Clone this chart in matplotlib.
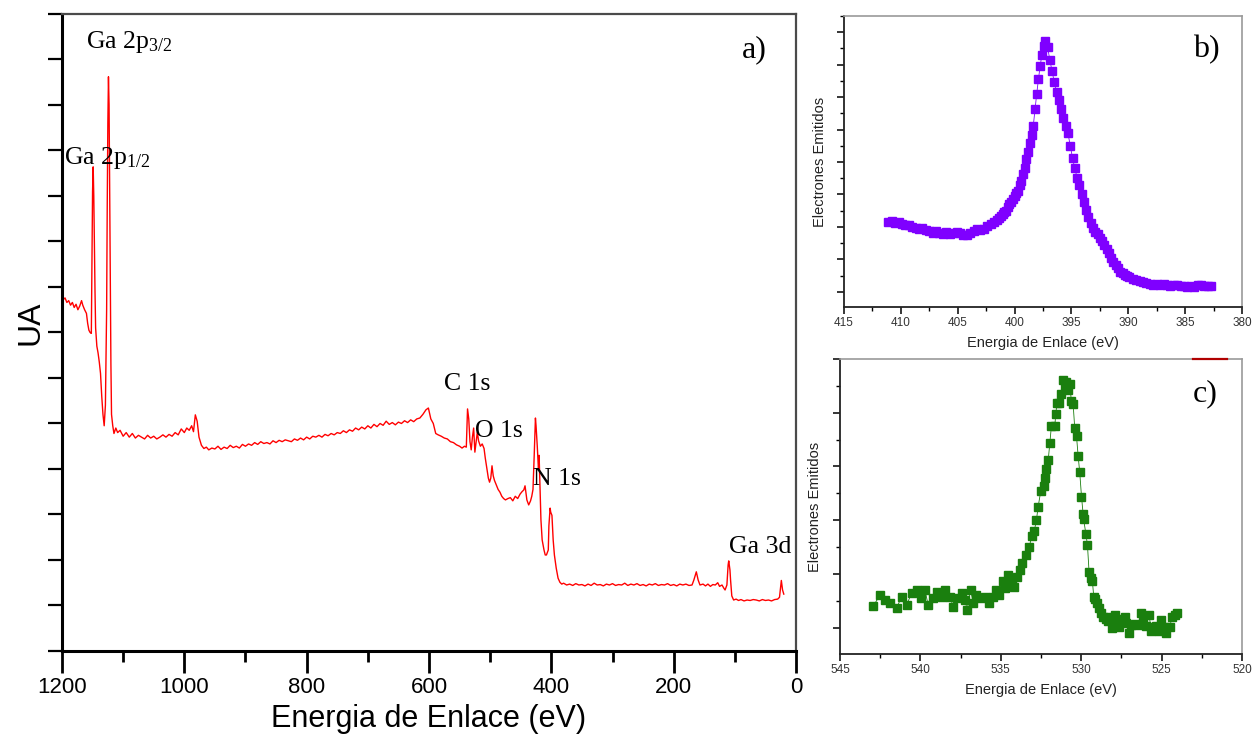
import matplotlib
matplotlib.use("Agg")
import matplotlib.pyplot as plt
from matplotlib.ticker import MultipleLocator, NullFormatter

plt.rcParams["font.family"] = ["Liberation Sans", "DejaVu Sans"]
plt.rcParams["mathtext.fontset"] = "custom"
plt.rcParams["mathtext.rm"] = "Liberation Serif"
plt.rcParams["mathtext.it"] = "Liberation Serif:italic"

# ---- survey spectrum (a) ----
survey_energy = [
    1200, 1198, 1195, 1192, 1189, 1186, 1183, 1180, 1177, 1174, 1171, 1168, 1166, 1163, 1160,
    1158, 1156, 1154, 1152, 1151, 1150, 1149, 1148, 1147, 1146, 1145, 1143, 1141, 1139, 1137,
    1135, 1133, 1131, 1129, 1127, 1126, 1125, 1124, 1123, 1122, 1121, 1120, 1119, 1117, 1115,
    1112, 1109, 1105, 1100, 1095, 1090, 1085, 1080, 1075, 1070, 1065, 1060, 1055, 1050, 1045,
    1040, 1035, 1030, 1025, 1020, 1015, 1010, 1005, 1000, 996, 992, 988, 985, 982, 979,
    976, 972, 968, 964, 960, 955, 950, 945, 940, 935, 930, 925, 920, 915, 910,
    905, 900, 895, 890, 885, 880, 875, 870, 865, 860, 855, 850, 845, 840, 835,
    830, 825, 820, 815, 810, 805, 800, 795, 790, 785, 780, 775, 770, 765, 760,
    755, 750, 745, 740, 735, 730, 725, 720, 715, 710, 705, 700, 695, 690, 685,
    680, 675, 670, 665, 660, 655, 650, 645, 640, 635, 630, 625, 620, 615, 610,
    605, 601, 597, 593, 589, 585, 580, 575, 570, 565, 560, 555, 550, 546, 542,
    539, 537, 535, 533, 531, 529, 527, 525, 523, 521, 519, 516, 513, 510, 508,
    505, 503, 501, 499, 497, 495, 493, 490, 487, 484, 481, 478, 475, 471, 467,
    463, 459, 455, 451, 448, 445, 443, 440, 437, 434, 432, 430, 428, 426, 425,
    423, 421, 420, 418, 417, 415, 412, 410, 408, 405, 404, 402, 401, 399, 397,
    395, 392, 389, 386, 383, 380, 375, 370, 365, 360, 355, 350, 345, 340, 335,
    330, 325, 320, 315, 310, 305, 300, 295, 290, 285, 280, 275, 270, 265, 260,
    255, 250, 245, 240, 235, 230, 225, 220, 215, 210, 205, 200, 195, 190, 185,
    180, 175, 170, 167, 163, 160, 157, 152, 148, 144, 140, 136, 132, 128, 125,
    121, 118, 116, 113, 111, 110, 108, 107, 105, 102, 98, 94, 90, 85, 80,
    75, 70, 65, 60, 55, 50, 45, 40, 35, 30, 27, 25, 24, 22, 20,
]
survey_counts = [
    7.80, 7.72, 7.76, 7.66, 7.70, 7.60, 7.66, 7.55, 7.62, 7.50, 7.58, 7.70, 7.60, 7.50, 7.42,
    7.20, 7.05, 7.00, 6.98, 8.50, 10.10, 10.64, 10.00, 8.90, 7.90, 7.10, 6.70, 6.55, 6.35, 6.10,
    5.60, 5.20, 4.95, 5.40, 7.50, 9.80, 11.60, 12.62, 12.00, 10.20, 8.20, 6.30, 5.20, 4.95, 4.78,
    4.90, 4.80, 4.85, 4.72, 4.80, 4.70, 4.78, 4.68, 4.74, 4.70, 4.66, 4.74, 4.68, 4.72, 4.66,
    4.70, 4.75, 4.70, 4.76, 4.72, 4.80, 4.75, 4.88, 4.80, 4.90, 4.85, 4.95, 4.82, 5.19, 5.05,
    4.70, 4.52, 4.45, 4.48, 4.42, 4.46, 4.44, 4.50, 4.43, 4.48, 4.45, 4.52, 4.47, 4.50, 4.46,
    4.54, 4.50, 4.55, 4.52, 4.58, 4.54, 4.60, 4.56, 4.58, 4.55, 4.62, 4.58, 4.63, 4.60, 4.64,
    4.62, 4.60, 4.66, 4.63, 4.68, 4.64, 4.70, 4.66, 4.72, 4.70, 4.74, 4.70, 4.76, 4.73, 4.78,
    4.75, 4.80, 4.78, 4.84, 4.80, 4.86, 4.83, 4.90, 4.86, 4.92, 4.88, 4.95, 4.90, 4.98, 4.93,
    5.00, 4.96, 5.05, 4.98, 5.02, 4.97, 5.03, 5.00, 5.06, 5.02, 5.08, 5.04, 5.10, 5.12, 5.20,
    5.30, 5.34, 5.10, 5.00, 4.78, 4.75, 4.72, 4.68, 4.66, 4.60, 4.58, 4.53, 4.50, 4.46, 4.50,
    4.48, 5.32, 5.10, 4.60, 4.42, 4.70, 4.90, 4.37, 4.60, 4.81, 4.62, 4.50, 4.55, 4.45, 4.24,
    3.98, 3.80, 3.71, 3.80, 4.07, 3.85, 3.75, 3.65, 3.55, 3.49, 3.40, 3.35, 3.32, 3.35, 3.37,
    3.30, 3.40, 3.35, 3.45, 3.50, 3.54, 3.63, 3.32, 3.21, 3.30, 3.40, 3.55, 4.30, 5.12, 4.95,
    4.50, 3.97, 4.30, 3.32, 2.88, 2.44, 2.22, 2.11, 2.11, 2.22, 2.75, 3.14, 3.05, 2.98, 2.44,
    2.11, 1.82, 1.60, 1.51, 1.47, 1.49, 1.45, 1.47, 1.44, 1.48, 1.45, 1.46, 1.43, 1.47, 1.44,
    1.49, 1.45, 1.46, 1.43, 1.47, 1.45, 1.48, 1.44, 1.46, 1.45, 1.49, 1.44, 1.47, 1.45, 1.48,
    1.44, 1.46, 1.43, 1.47, 1.45, 1.48, 1.44, 1.46, 1.45, 1.48, 1.44, 1.46, 1.43, 1.47, 1.45,
    1.47, 1.44, 1.45, 1.56, 1.74, 1.56, 1.45, 1.47, 1.43, 1.47, 1.42, 1.46, 1.45, 1.50, 1.42,
    1.45, 1.38, 1.34, 1.45, 1.89, 1.98, 1.78, 1.56, 1.21, 1.12, 1.14, 1.11, 1.13, 1.10, 1.12,
    1.11, 1.13, 1.12, 1.10, 1.13, 1.11, 1.12, 1.10, 1.13, 1.14, 1.18, 1.43, 1.55, 1.34, 1.25,
]

# peak labels: (text, energy, intensity)
peak_labels = [
    ("Ga 2p$_{3/2}$", 1161, 13.25),
    ("Ga 2p$_{1/2}$", 1197, 10.70),
    ("C 1s", 575, 5.74),
    ("O 1s", 525, 4.70),
    ("N 1s", 430, 3.65),
    ("Ga 3d", 109, 2.15),
]

# ---- N 1s high-resolution (b) ----
n1s_energy = [
    411.1, 410.8, 410.5, 410.2, 409.9, 409.6, 409.3, 409.0, 408.7, 408.4, 408.1, 407.8,
    407.5, 407.2, 406.9, 406.6, 406.3, 406.0, 405.7, 405.4, 405.1, 404.8, 404.5, 404.2,
    403.9, 403.6, 403.3, 403.0, 402.7, 402.4, 402.1, 401.8, 401.5,
    401.35, 401.2, 401.05, 400.9, 400.75, 400.6, 400.45, 400.3, 400.15, 400.0, 399.85,
    399.7, 399.55, 399.4, 399.25, 399.1, 398.95, 398.8, 398.65, 398.5, 398.35, 398.2,
    398.05, 397.9, 397.75, 397.6, 397.45, 397.3,
    397.1, 396.9, 396.7, 396.5, 396.3, 396.1, 395.9, 395.7, 395.5, 395.3, 395.1, 394.9,
    394.7, 394.5, 394.3, 394.1, 393.9, 393.7, 393.5, 393.3, 393.1, 392.9, 392.7, 392.5,
    392.3, 392.1, 391.9, 391.7, 391.5, 391.3, 391.1, 390.9, 390.7, 390.5, 390.3, 390.1,
    389.9, 389.6, 389.3, 389.0, 388.7, 388.4, 388.1, 387.8, 387.5, 387.2, 386.9, 386.6,
    386.3, 386.0, 385.7, 385.4, 385.1, 384.8, 384.5, 384.2, 383.9, 383.6, 383.3, 383.0,
    382.7,
]
n1s_counts = [
    2.16, 2.18, 2.13, 2.15, 2.10, 2.07, 2.05, 2.00, 1.98, 1.95, 1.96, 1.90,
    1.88, 1.82, 1.86, 1.80, 1.78, 1.83, 1.79, 1.81, 1.85, 1.80, 1.76, 1.74,
    1.80, 1.88, 1.92, 1.90, 1.95, 2.02, 2.10, 2.14, 2.22,
    2.28, 2.33, 2.40, 2.45, 2.50, 2.60, 2.70, 2.76, 2.86, 2.95, 3.05,
    3.12, 3.28, 3.42, 3.62, 3.82, 4.10, 4.30, 4.58, 4.82, 5.12, 5.62,
    6.10, 6.55, 6.95, 7.30, 7.58, 7.72,
    7.55, 7.15, 6.80, 6.45, 6.15, 5.90, 5.62, 5.35, 5.10, 4.88, 4.50, 4.12,
    3.80, 3.52, 3.30, 3.02, 2.78, 2.52, 2.30, 2.12, 1.98, 1.85, 1.78, 1.66,
    1.58, 1.45, 1.33, 1.20, 1.05, 0.92, 0.82, 0.72, 0.62, 0.57, 0.52, 0.48,
    0.45, 0.40, 0.35, 0.32, 0.30, 0.27, 0.25, 0.22, 0.24, 0.20, 0.23, 0.21,
    0.19, 0.22, 0.20, 0.17, 0.19, 0.15, 0.18, 0.16, 0.21, 0.20, 0.18, 0.19,
    0.17,
]

# ---- O 1s high-resolution (c) ----
o1s_energy = [
    542.93, 542.51, 542.20, 541.89, 541.48, 541.17, 540.86, 540.55, 540.24, 539.93,
    539.72, 539.51, 539.20, 538.99, 538.68, 538.48, 538.16, 537.96, 537.75, 537.44,
    537.23, 537.09, 536.88, 536.71, 536.51, 536.20, 535.99, 535.72, 535.51, 535.27,
    535.10, 534.89, 534.75, 534.54, 534.33, 534.17, 534.02, 533.82, 533.65, 533.46,
    533.24, 533.05, 532.92, 532.78, 532.68, 532.51, 532.32, 532.22, 532.16, 532.05,
    531.95, 531.85, 531.64, 531.58, 531.50, 531.37, 531.27, 531.12, 531.02, 530.92,
    530.81, 530.71, 530.61, 530.50, 530.40, 530.29, 530.19, 530.09, 529.98, 529.88,
    529.85, 529.71, 529.61, 529.51, 529.40, 529.30, 529.22, 529.11, 528.99, 528.91,
    528.78, 528.64, 528.47, 528.33, 528.18, 528.06, 527.91, 527.81, 527.64, 527.50,
    527.29, 527.19, 527.02, 526.88, 526.67, 526.46, 526.26, 526.15, 525.99, 525.78,
    525.63, 525.47, 525.32, 525.16, 525.01, 524.81, 524.70, 524.50, 524.33, 524.18,
    524.04,
]
o1s_counts = [
    0.40, 0.61, 0.52, 0.45, 0.36, 0.58, 0.42, 0.64, 0.70, 0.55,
    0.70, 0.42, 0.55, 0.67, 0.58, 0.71, 0.58, 0.39, 0.55, 0.64,
    0.52, 0.33, 0.71, 0.45, 0.61, 0.55, 0.58, 0.45, 0.58, 0.70,
    0.61, 0.86, 0.73, 0.98, 0.89, 0.76, 0.95, 1.07, 1.20, 1.35,
    1.51, 1.70, 1.79, 2.01, 2.24, 2.55, 2.63, 2.78, 2.95, 3.12,
    3.43, 3.76, 3.75, 3.98, 4.18, 4.18, 4.35, 4.60, 4.50, 4.58,
    4.43, 4.54, 4.21, 4.16, 3.71, 3.56, 3.20, 2.89, 2.44, 2.12,
    2.02, 1.75, 1.54, 1.04, 0.92, 0.86, 0.58, 0.53, 0.45, 0.36,
    0.27, 0.20, 0.17, 0.13, 0.20, -0.01, 0.24, 0.11, 0.02, 0.17,
    0.20, 0.09, -0.09, 0.05, 0.07, 0.05, 0.27, 0.11, 0.03, 0.24,
    -0.07, 0.02, 0.03, -0.07, 0.14, 0.01, -0.09, 0.02, 0.20, 0.24,
    0.28,
]

SERIF = ["Liberation Serif", "DejaVu Serif"]

fig = plt.figure(figsize=(12.52, 7.40), dpi=100)
fig.patch.set_facecolor("white")

# ---------------- panel a ----------------
ax = fig.add_axes([0.0495, 0.1203, 0.5863, 0.8608])
ax.plot(survey_energy, survey_counts, color="#ff0000", lw=1.0)
ax.set_xlim(1200, 0)
ax.set_ylim(0, 14)
ax.xaxis.set_major_locator(MultipleLocator(200))
ax.xaxis.set_minor_locator(MultipleLocator(100))
ax.yaxis.set_major_locator(MultipleLocator(1))
ax.yaxis.set_major_formatter(NullFormatter())
ax.tick_params(axis="x", which="major", direction="out", length=16, width=2,
               labelsize=16, pad=3, colors="black")
ax.tick_params(axis="x", which="minor", direction="out", length=8, width=2)
ax.tick_params(axis="y", which="major", direction="out", length=10, width=1.6)
for side in ("left", "bottom"):
    ax.spines[side].set_linewidth(2.2)
    ax.spines[side].set_color("black")
for side in ("top", "right"):
    ax.spines[side].set_linewidth(1.6)
    ax.spines[side].set_color("#4a4a4a")
ax.set_xlabel("Energia de Enlace (eV)", fontsize=22, labelpad=4)
ax.set_ylabel("UA", fontsize=23)
ax.yaxis.set_label_coords(-0.022, 0.515)
for text, e, v in peak_labels:
    ax.text(e, v, text, fontsize=18.5, family=SERIF, ha="left", va="baseline")
ax.text(0.926, 0.932, "a)", transform=ax.transAxes, fontsize=23, family=SERIF,
        ha="left", va="baseline")


def style_small(axs, xmin, xmax, ymin, ymax, label, ylabel_x):
    axs.set_xlim(xmin, xmax)
    axs.set_ylim(ymin, ymax)
    axs.xaxis.set_major_locator(MultipleLocator(5))
    axs.xaxis.set_minor_locator(MultipleLocator(2.5))
    axs.yaxis.set_major_locator(MultipleLocator(1))
    axs.yaxis.set_minor_locator(MultipleLocator(0.5))
    axs.yaxis.set_major_formatter(NullFormatter())
    axs.tick_params(axis="both", which="major", direction="out", length=5, width=1.1,
                    labelsize=8.5, labelcolor="#333333", pad=2)
    axs.tick_params(axis="both", which="minor", direction="out", length=3, width=1.0)
    for side in ("left", "bottom"):
        axs.spines[side].set_linewidth(1.3)
        axs.spines[side].set_color("#222222")
    for side in ("top", "right"):
        axs.spines[side].set_linewidth(1.2)
        axs.spines[side].set_color("#9a9a9a")
    axs.set_xlabel("Energia de Enlace (eV)", fontsize=10.5, color="#222222", labelpad=5)
    axs.set_ylabel("Electrones Emitidos", fontsize=10.5, color="#222222")
    axs.yaxis.set_label_coords(ylabel_x, 0.5)
    axs.text(0.877, 0.857, label, transform=axs.transAxes, fontsize=23, family=SERIF,
             ha="left", va="baseline")


# ---------------- panel b ----------------
axb = fig.add_axes([0.6741, 0.5851, 0.3179, 0.3933])
axb.plot(n1s_energy, n1s_counts, color="#7f00ff", lw=0.6, marker="s", ms=5.4,
         mec="#7f00ff", mfc="#7f00ff")
style_small(axb, 415, 380, -0.47, 8.5, "b)", -0.042)

# ---------------- panel c ----------------
axc = fig.add_axes([0.6709, 0.1162, 0.3211, 0.3987])
axc.plot(o1s_energy, o1s_counts, color="#1a7f0e", lw=0.6, marker="s", ms=6.0,
         mec="#1a7f0e", mfc="#1a7f0e")
style_small(axc, 545, 520, -0.49, 5.0, "c)", -0.045)
# short dark-red segment sitting on the top frame of panel c
axc.plot([0.878, 0.962], [1.0, 1.0], transform=axc.transAxes,
         color="#b00000", lw=1.6, clip_on=False, zorder=5)

fig.savefig("out.png", dpi=100, facecolor="white")
